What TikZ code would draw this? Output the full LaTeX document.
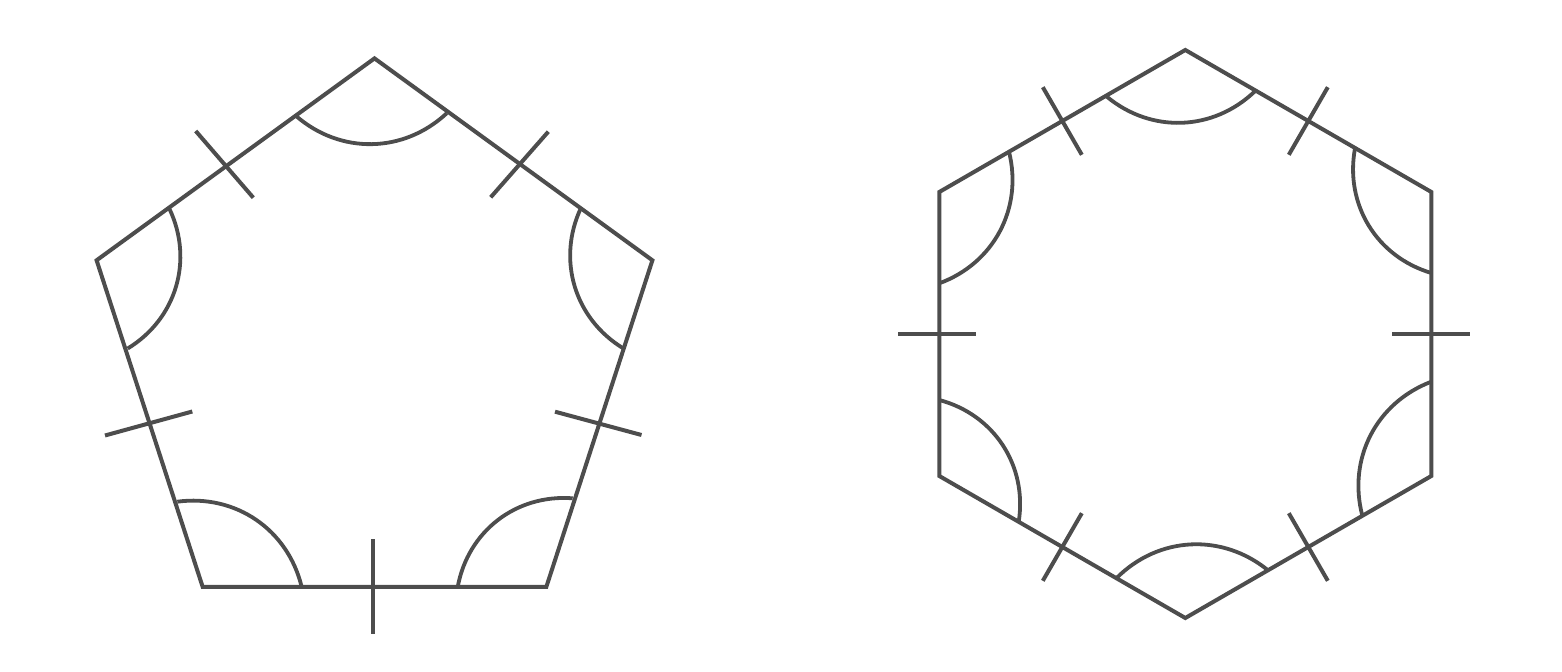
\documentclass[tikz,border=0pt]{standalone}
\definecolor{ink}{RGB}{77,77,77}
\tikzset{
  polyline/.style={draw=ink, line width=2pt, line join=miter},
  marktick/.style={draw=ink, line width=2pt},
  anglearc/.style={draw=ink, line width=1.9pt, bend right=42}
}
\begin{document}
\begin{tikzpicture}[x=0.5pt,y=-0.5pt]
\useasboundingbox (0,0) rectangle (1562,672);
% ---------- pentagon ----------
\coordinate (pT)  at (374.5,58.4);
\coordinate (pUR) at (652.4,260.3);
\coordinate (pLR) at (546.3,587);
\coordinate (pLL) at (202.7,587);
\coordinate (pUL) at (96.6,260.3);
\draw[polyline] (pT) -- (pUR) -- (pLR) -- (pLL) -- (pUL) -- cycle;
% angle arcs
\coordinate (pa1) at (295.7,115.7);  \coordinate (pa2) at (446.7,113.3);
\coordinate (pb1) at (581,207.8);    \coordinate (pb2) at (623.5,348.5);
\coordinate (pc1) at (572.7,498.3);  \coordinate (pc2) at (457.7,587);
\coordinate (pd1) at (301.7,587);    \coordinate (pd2) at (177.3,501.7);
\coordinate (pe1) at (127.7,348.5);  \coordinate (pe2) at (169.5,209);
\draw[anglearc] (pa1) to (pa2);
\draw[anglearc] (pb1) to (pb2);
\draw[anglearc] (pc1) to (pc2);
\draw[anglearc] (pd1) to (pd2);
\draw[anglearc] (pe1) to (pe2);
% side ticks
\coordinate (pt1a) at (195.7,131);   \coordinate (pt1b) at (253.3,197.7);
\coordinate (pt2a) at (548.3,131.7); \coordinate (pt2b) at (490.7,197.3);
\coordinate (pt3a) at (555,411.7);   \coordinate (pt3b) at (641.5,435);
\coordinate (pt4a) at (373,539.3);   \coordinate (pt4b) at (373,634);
\coordinate (pt5a) at (105,435.5);   \coordinate (pt5b) at (192.3,411.5);
\draw[marktick] (pt1a) -- (pt1b);
\draw[marktick] (pt2a) -- (pt2b);
\draw[marktick] (pt3a) -- (pt3b);
\draw[marktick] (pt4a) -- (pt4b);
\draw[marktick] (pt5a) -- (pt5b);
% ---------- hexagon ----------
\coordinate (hT)  at (1185.3,50);
\coordinate (hUR) at (1431.3,192);
\coordinate (hLR) at (1431.3,476);
\coordinate (hB)  at (1185.3,618);
\coordinate (hLL) at (939.3,476);
\coordinate (hUL) at (939.3,192);
\draw[polyline] (hT) -- (hUR) -- (hLR) -- (hB) -- (hLL) -- (hUL) -- cycle;
% angle arcs
\coordinate (ha1) at (1106.2,96.2);  \coordinate (ha2) at (1255.4,90.8);
\coordinate (hb1) at (1355,148.3);   \coordinate (hb2) at (1431.3,273);
\coordinate (hc1) at (1431.3,381.7); \coordinate (hc2) at (1362.4,516);
\coordinate (hd1) at (1267.9,570.2); \coordinate (hd2) at (1116.6,578);
\coordinate (he1) at (1018.7,521.8); \coordinate (he2) at (939.3,400);
\coordinate (hf1) at (939.3,283.3);  \coordinate (hf2) at (1009,151.8);
\draw[anglearc] (ha1) to (ha2);
\draw[anglearc] (hb1) to (hb2);
\draw[anglearc] (hc1) to (hc2);
\draw[anglearc] (hd1) to (hd2);
\draw[anglearc] (he1) to (he2);
\draw[anglearc] (hf1) to (hf2);
% side ticks
\coordinate (ht1a) at (1042.8,87.2);  \coordinate (ht1b) at (1081.8,154.8);
\coordinate (ht2a) at (1327.8,87.2);  \coordinate (ht2b) at (1288.8,154.8);
\coordinate (ht3a) at (1392.3,334);   \coordinate (ht3b) at (1470.3,334);
\coordinate (ht4a) at (1288.8,513.2); \coordinate (ht4b) at (1327.8,580.8);
\coordinate (ht5a) at (1081.8,513.2); \coordinate (ht5b) at (1042.8,580.8);
\coordinate (ht6a) at (898.3,334);    \coordinate (ht6b) at (976.3,334);
\draw[marktick] (ht1a) -- (ht1b);
\draw[marktick] (ht2a) -- (ht2b);
\draw[marktick] (ht3a) -- (ht3b);
\draw[marktick] (ht4a) -- (ht4b);
\draw[marktick] (ht5a) -- (ht5b);
\draw[marktick] (ht6a) -- (ht6b);
\end{tikzpicture}
\end{document}
